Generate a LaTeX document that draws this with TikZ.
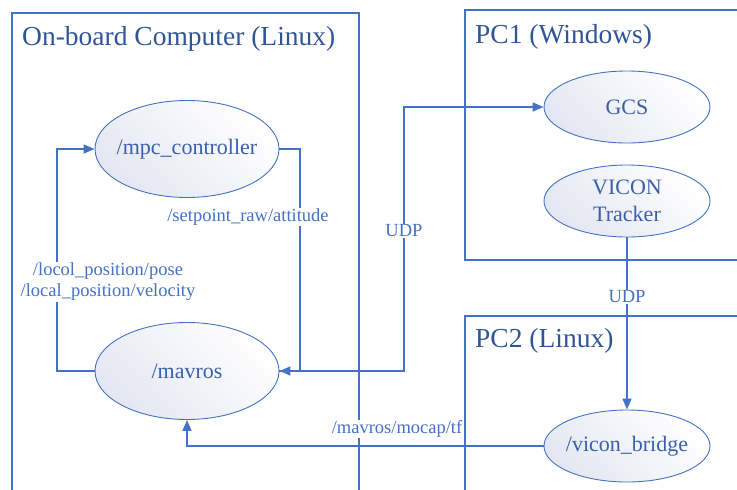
\documentclass[tikz,border=0pt]{standalone}
\usepackage{fontspec}
\setmainfont{Liberation Serif}
\usetikzlibrary{arrows.meta,shapes.geometric}
\definecolor{linec}{HTML}{4472C4}
\definecolor{titlec}{HTML}{2F5597}
\definecolor{nodec}{HTML}{3A60AC}
\definecolor{shadec}{HTML}{E4E7F2}
\tikzset{
  boxline/.style={draw=linec, line width=1.1pt},
  title/.style={anchor=base west, text=titlec, inner sep=0pt, font=\fontsize{27.5}{30}\selectfont},
  oval/.style={ellipse, draw=linec, line width=0.9pt, top color=shadec, bottom color=white, shading angle=135,
     text=nodec, font=\fontsize{22}{27}\selectfont, align=center, inner xsep=-30pt, inner ysep=-12pt},
  bigoval/.style={oval, minimum width=184pt, minimum height=97pt},
  smalloval/.style={oval, minimum width=166pt, minimum height=72pt},
  conn/.style={draw=linec, line width=1.4pt, -{Triangle[length=11pt,width=9pt]}},
  lbl/.style={text=linec, font=\fontsize{18.5}{21}\selectfont, fill=white, inner sep=1pt, align=center}
}
\begin{document}
\begin{tikzpicture}[x=1pt,y=-1pt]
\useasboundingbox (0,0) rectangle (737,490);
% boxes
\draw[boxline] (12,500) -- (12,13) -- (359,13) -- (359,500);
\draw[boxline] (750,10) -- (465,10) -- (465,260) -- (750,260);
\draw[boxline] (750,316) -- (465,316) -- (465,500);
\node[title] (t1) at (22,45) {On-board Computer (Linux)};
\node[title] (t2) at (475,43) {PC1 (Windows)};
\node[title] (t3) at (475,347) {PC2 (Linux)};
% nodes
\node[bigoval] (mpc) at (187,149) {/mpc\_controller};
\node[bigoval] (mavros) at (187,371) {/mavros};
\node[smalloval] (gcs) at (627,107) {GCS};
\node[smalloval] (vicon) at (627,201) {VICON\\Tracker};
\node[smalloval] (bridge) at (627,446) {/vicon\_bridge};
% bend coordinates
\coordinate (sp) at (300,260);
\coordinate (lp) at (57,280);
\coordinate (ud) at (404,230);
% connectors
\draw[conn] (mavros.east) -| (ud) |- (gcs.west);
\draw[conn] (mpc.east) -| (sp) |- (mavros.east);
\draw[conn] (mavros.west) -| (lp) |- (mpc.west);
\draw[conn] (vicon.south) -- (bridge.north);
\draw[conn] (bridge.west) -| (mavros.south);
% labels
\node[lbl] (l1) at (248,217) {/setpoint\_raw/attitude};
\node[lbl] (l2) at (108,282) {/locol\_position/pose\\/local\_position/velocity};
\node[lbl] (l3) at (404,231) {UDP};
\node[lbl] (l4) at (627,297) {UDP};
\node[lbl] (l5) at (397,429) {/mavros/mocap/tf};
\end{tikzpicture}
\end{document}
